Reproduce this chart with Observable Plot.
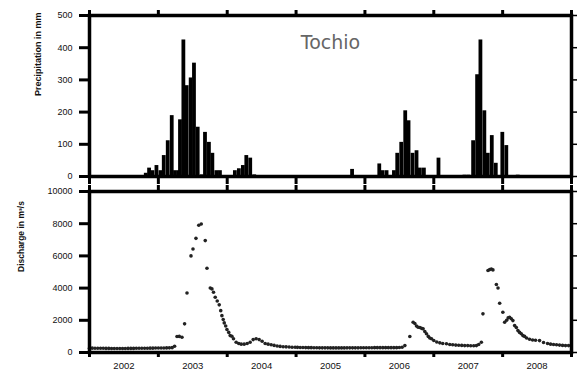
<!DOCTYPE html>
<html><head><meta charset="utf-8">
<script src="https://cdn.jsdelivr.net/npm/d3@7"></script>
<script src="https://cdn.jsdelivr.net/npm/@observablehq/plot@0.6"></script>
<style>
html,body{margin:0;padding:0;background:#fff;}
#chart{position:relative;width:577px;height:372px;overflow:hidden;}
#chart > div{position:absolute;left:0;}
#chart svg{overflow:visible;}
</style></head><body>
<div id="chart"><div id="topPanel" style="top:0"></div><div id="bottomPanel" style="top:184px"></div></div>
<script>
// ---- data ----
const title = "Tochio";
const precipLabel = "Precipitation in mm";
const dischargeLabel = "Discharge in m³/s";
const yearBounds = [2002, 2003, 2004, 2005, 2006, 2007, 2008, 2009];
const yearLabels = ["2002", "2003", "2004", "2005", "2006", "2007", "2008"];
const precipTicks = [0, 100, 200, 300, 400, 500];
const dischargeTicks = [0, 2000, 4000, 6000, 8000, 10000];

// precipitation: [period start (decimal year), mm]
const precip = [
  [2002.797,10],[2002.845,26],[2002.894,18],[2002.952,34],[2003.010,18],[2003.058,65],
  [2003.116,111],[2003.174,189],[2003.222,18],[2003.276,18],[2003.294,176],[2003.343,424],
  [2003.391,282],[2003.449,306],[2003.497,352],[2003.551,153],[2003.609,5],[2003.657,137],
  [2003.714,106],[2003.764,72],[2003.822,18],[2003.874,18],
  [2004.091,18],[2004.149,24],[2004.207,34],[2004.257,65],[2004.314,57],[2004.372,5],
  [2005.793,22],
  [2006.188,39],[2006.236,18],[2006.294,18],[2006.343,3],[2006.401,18],[2006.449,72],
  [2006.507,106],[2006.565,204],[2006.613,173],[2006.671,72],[2006.729,80],[2006.778,26],
  [2006.836,26],[2006.990,3],[2007.048,57],
  [2007.425,4],[2007.483,4],[2007.551,111],[2007.609,316],[2007.657,424],[2007.714,204],
  [2007.764,72],[2007.822,127],[2007.880,41],[2007.975,137],[2008.033,96],[2008.199,4]
];
const barWidth = 0.055;

// discharge: [date (decimal year), m3/s]
const discharge = [
  [2002.00,270],[2002.04,270],[2002.08,265],[2002.12,265],[2002.16,260],[2002.20,260],
  [2002.24,255],[2002.28,255],[2002.32,250],[2002.36,250],[2002.40,250],[2002.44,250],
  [2002.48,250],[2002.52,250],[2002.56,255],[2002.60,255],[2002.64,255],[2002.68,260],
  [2002.72,260],[2002.76,260],[2002.80,265],[2002.84,265],[2002.88,270],[2002.92,270],
  [2002.96,275],[2003.00,275],[2003.04,280],[2003.08,280],[2003.12,285],[2003.16,290],
  [2003.20,300],
  [2003.236,390],[2003.271,990],[2003.304,1000],[2003.343,950],[2003.381,1780],[2003.416,3700],
  [2003.474,6000],[2003.503,6430],[2003.546,7090],[2003.587,7900],[2003.623,7980],[2003.681,6950],
  [2003.706,5230],[2003.754,4010],[2003.778,3950],[2003.801,3740],[2003.826,3430],[2003.855,3200],
  [2003.884,2960],[2003.906,2600],[2003.923,2290],[2003.942,2050],[2003.957,1840],[2003.978,1650],
  [2003.996,1430],[2004.022,1250],[2004.043,1050],[2004.068,1010],[2004.091,850],[2004.130,640],
  [2004.167,560],[2004.203,520],[2004.246,520],[2004.290,560],[2004.333,640],[2004.377,800],
  [2004.420,850],[2004.464,800],[2004.507,700],[2004.551,560],[2004.594,520],[2004.638,480],
  [2004.681,440],[2004.725,400],[2004.768,380],[2004.812,360],[2004.855,350],[2004.899,340],
  [2004.942,330],[2004.986,330],
  [2005.02,320],[2005.06,315],[2005.10,310],[2005.14,305],[2005.18,300],[2005.22,300],
  [2005.26,295],[2005.30,295],[2005.34,290],[2005.38,290],[2005.42,290],[2005.46,290],
  [2005.50,285],[2005.54,285],[2005.58,285],[2005.62,285],[2005.66,285],[2005.70,285],
  [2005.74,290],[2005.78,290],[2005.82,290],[2005.86,290],[2005.90,290],[2005.94,295],
  [2005.98,295],[2006.02,295],[2006.06,295],[2006.10,295],[2006.14,300],[2006.18,300],
  [2006.22,300],[2006.26,300],[2006.30,300],[2006.34,300],[2006.38,300],[2006.42,300],
  [2006.46,300],[2006.50,310],[2006.54,330],
  [2006.580,430],[2006.652,990],[2006.700,1880],[2006.725,1800],[2006.749,1650],[2006.772,1570],
  [2006.797,1550],[2006.822,1500],[2006.845,1470],[2006.870,1300],[2006.894,1160],[2006.920,1000],
  [2006.942,900],[2006.967,850],[2007.000,750],[2007.043,650],[2007.087,600],[2007.130,560],
  [2007.184,540],[2007.232,500],[2007.275,480],[2007.319,460],[2007.362,450],[2007.406,440],
  [2007.449,430],[2007.493,430],[2007.536,420],[2007.580,420],[2007.619,430],[2007.652,500],
  [2007.691,640],[2007.714,2400],[2007.787,5090],[2007.812,5150],[2007.836,5190],[2007.859,5130],
  [2007.909,4220],[2007.933,4010],[2007.957,3060],[2008.003,2500],[2008.029,1880],[2008.058,2000],
  [2008.080,2150],[2008.101,2190],[2008.126,2100],[2008.149,1980],[2008.174,1670],[2008.199,1550],
  [2008.222,1360],[2008.246,1250],[2008.271,1160],[2008.294,1050],[2008.319,1000],[2008.348,900],
  [2008.391,820],[2008.435,780],[2008.478,760],[2008.536,740],[2008.594,620],[2008.652,560],
  [2008.696,520],[2008.739,500],[2008.783,480],[2008.826,460],[2008.870,440],[2008.913,430],
  [2008.957,430]
];

// ---- chart ----
const xDomain = [yearBounds[0], yearBounds[yearBounds.length - 1]];
const labelPos = yearLabels.map((s, i) => yearBounds[i] + 0.5);
const font = "'Liberation Sans', Arial, sans-serif";
const blank = () => "";

const topChart = Plot.plot({
  width: 577, height: 184,
  marginLeft: 89, marginRight: 6, marginTop: 15, marginBottom: 8,
  style: {fontFamily: font, background: "transparent", overflow: "visible", color: "#111"},
  x: {domain: xDomain},
  y: {domain: [0, 500]},
  marks: [
    Plot.rect(precip, {x1: d => d[0], x2: d => d[0] + barWidth, y1: 0, y2: d => d[1], fill: "#000"}),
    Plot.frame({strokeWidth: 3.5, stroke: "#000"}),
    Plot.axisX({anchor: "top", ticks: yearBounds, tickSize: 6, tickFormat: blank, strokeWidth: 3, stroke: "#000", label: null}),
    Plot.axisX({anchor: "bottom", ticks: yearBounds, tickSize: 8, tickFormat: blank, strokeWidth: 3, stroke: "#000", label: null}),
    Plot.axisY({anchor: "left", ticks: precipTicks, tickSize: 10, tickPadding: 7, strokeWidth: 3, stroke: "#000",
      tickFormat: d3.format("d"), fontSize: 9, label: null}),
    Plot.axisY({anchor: "right", ticks: precipTicks, tickSize: 5, tickFormat: blank, strokeWidth: 1.5, stroke: "#000", label: null}),
    Plot.text([title], {frameAnchor: "top", dy: 20, lineAnchor: "top", fontSize: 19,
      fill: "#666", fontFamily: "'DejaVu Sans', sans-serif"}),
    Plot.text([precipLabel], {frameAnchor: "left", rotate: -90, dx: -51, fontSize: 9, fontWeight: "bold", fill: "#111"})
  ]
});

const bottomChart = Plot.plot({
  width: 577, height: 188,
  marginLeft: 89, marginRight: 6, marginTop: 7, marginBottom: 20,
  style: {fontFamily: font, background: "transparent", overflow: "visible", color: "#111"},
  x: {domain: xDomain},
  y: {domain: [0, 10000]},
  marks: [
    Plot.dot(discharge, {x: d => d[0], y: d => d[1], r: 1.8, fill: "#222", stroke: "none"}),
    Plot.frame({strokeWidth: 3.5, stroke: "#000"}),
    Plot.axisX({anchor: "top", ticks: yearBounds, tickSize: 7, tickFormat: blank, strokeWidth: 3, stroke: "#000", label: null}),
    Plot.axisX({anchor: "bottom", ticks: yearBounds, tickSize: 5, tickFormat: blank, strokeWidth: 3, stroke: "#000", label: null}),
    Plot.axisX({anchor: "bottom", ticks: labelPos, tickSize: 0, tickPadding: 10,
      tickFormat: d => yearLabels[Math.floor(d) - yearBounds[0]], fontSize: 9.5, label: null}),
    Plot.axisY({anchor: "left", ticks: dischargeTicks, tickSize: 10, tickPadding: 7, strokeWidth: 3, stroke: "#000",
      tickFormat: d3.format("d"), fontSize: 9, label: null}),
    Plot.axisY({anchor: "right", ticks: dischargeTicks, tickSize: 5, tickFormat: blank, strokeWidth: 1.5, stroke: "#000", label: null}),
    Plot.text([dischargeLabel], {frameAnchor: "left", rotate: -90, dx: -68, fontSize: 8.5, fontWeight: "bold", fill: "#111"})
  ]
});

document.getElementById("topPanel").appendChild(topChart);
document.getElementById("bottomPanel").appendChild(bottomChart);
</script>
</body></html>
